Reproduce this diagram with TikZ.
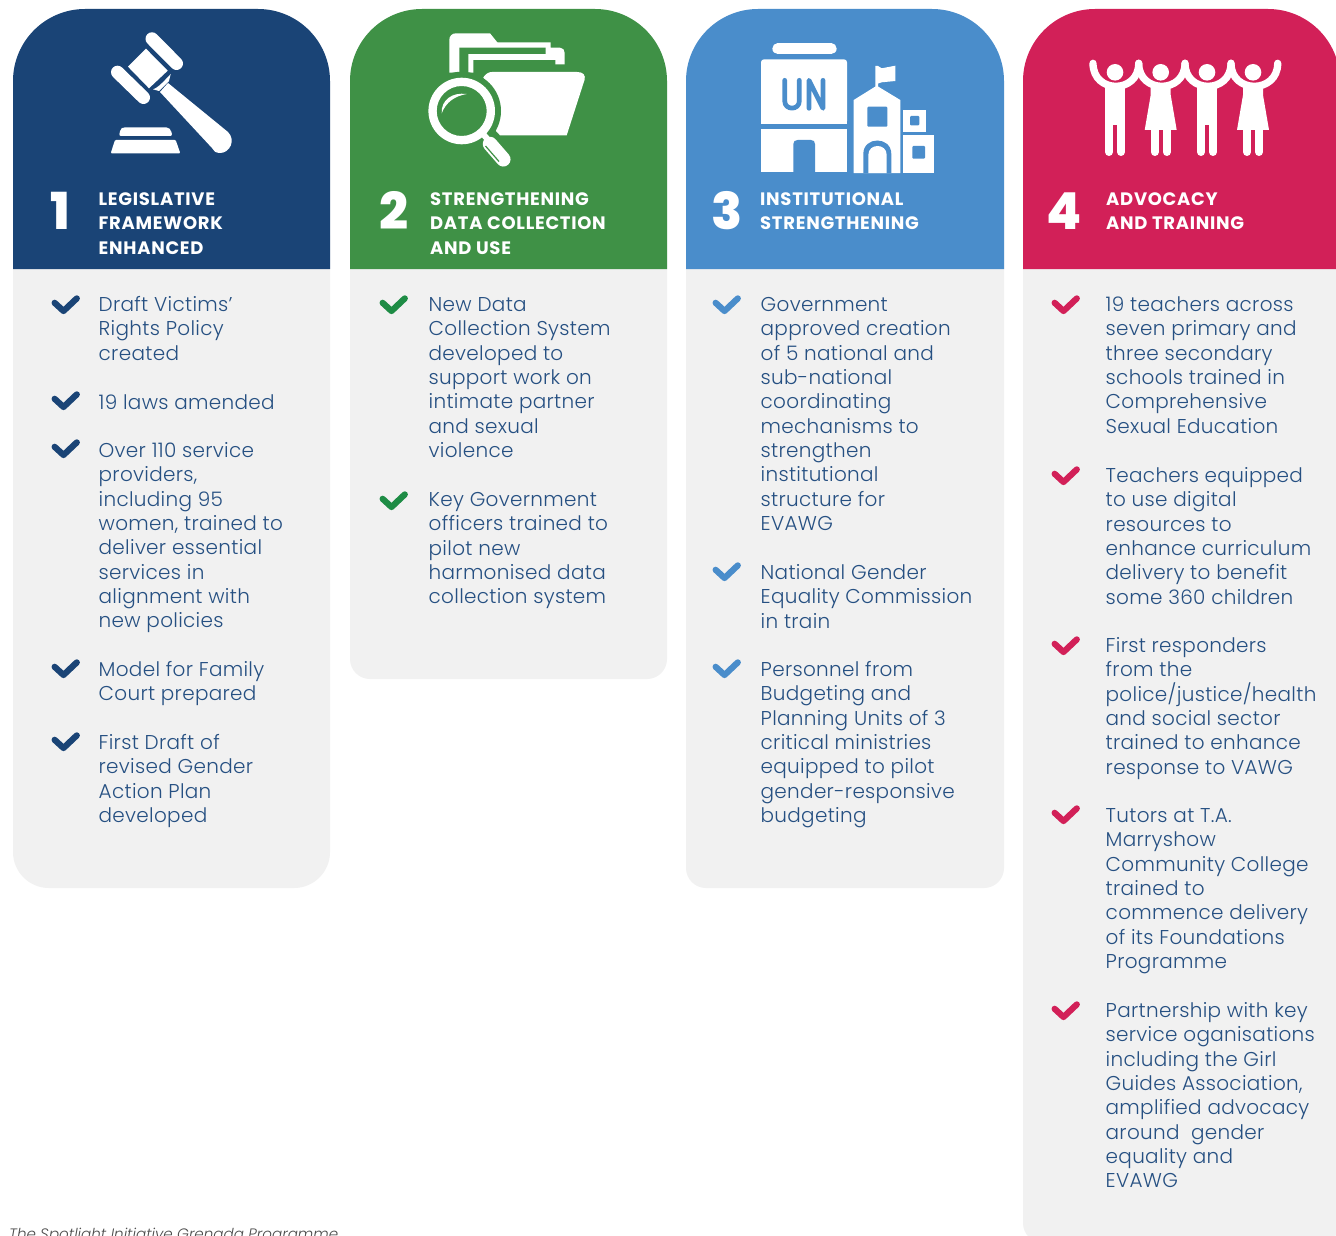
\documentclass[tikz,border=0pt]{standalone}
\usepackage{fontspec}
\setmainfont{Poppins}
\newfontfamily\bodyf[LetterSpace=1.5]{Poppins Light}
\newfontfamily\headf[LetterSpace=4]{Poppins Bold}
\newfontfamily\numf{Poppins ExtraBold}
\newfontfamily\footf{Poppins Light Italic}
\definecolor{navy}{HTML}{1A4476}
\definecolor{grn}{HTML}{3F9146}
\definecolor{chkgrn}{HTML}{1E8C45}
\definecolor{sky}{HTML}{4A8DCB}
\definecolor{crim}{HTML}{D22058}
\definecolor{pane}{HTML}{F1F1F1}
\definecolor{bodyc}{HTML}{265082}
\tikzset{
  bodytxt/.style={anchor=north west,inner sep=0pt,align=left,text=bodyc,font=\bodyf\fontsize{20}{24.33}\selectfont},
  headtxt/.style={anchor=north west,inner sep=0pt,align=left,text=white,font=\headf\fontsize{18}{24.6}\selectfont},
  numtxt/.style={anchor=base west,inner sep=0pt,text=white,font=\numf\fontsize{51}{51}\selectfont},
  ic/.style={fill=white,draw=none},
  capsule/.style={draw=white,line cap=round,line width=#1},
  checkline/.style={draw=#1,line width=6.2pt,line cap=round,line join=round}
}
\newcommand\pnl[5]{% x0 x1 ybot rb colour
  \fill[pane] (#1,200) [rounded corners=#4pt] -- (#1,#3) -- (#2,#3) -- (#2,200) -- cycle;
  \fill[#5] (#1,269) [rounded corners=72pt] -- (#1,9) -- (#2,9) [sharp corners] -- (#2,269) -- cycle;
}
\newcommand\chk[3]{% x0 yc colour
  \draw[checkline=#3] (#1+3.6,#2-1.2) -- (#1+12.5,#2+7) -- (#1+25.8,#2-5.6);
}
\newcommand\itx[4]{\node[bodytxt] (#1) at (#2,#3+.2-16) {\rule{0pt}{16pt}#4};}
\newcommand\hdx[4]{\node[headtxt] (#1) at (#2,#3-14) {\rule{0pt}{14pt}#4};}
\newcommand\boy[1]{% centre x
  \fill[white] (#1-10,86) rectangle (#1+10,125);
  \draw[capsule=8pt] (#1-6,120) -- (#1-6,152);
  \draw[capsule=8pt] (#1+6,120) -- (#1+6,152);
  \fill[white] (#1,72.3) circle[radius=8.3pt];
}
\newcommand\girl[1]{%
  \fill[white] (#1-10,86) -- (#1+10,86) -- (#1+10,95) -- (#1+16,130) -- (#1-16,130) -- (#1-10,95) -- cycle;
  \draw[capsule=8pt] (#1-6,125) -- (#1-6,152);
  \draw[capsule=8pt] (#1+6,125) -- (#1+6,152);
  \fill[white] (#1,72.3) circle[radius=8.3pt];
}
\newcommand\armc[2]{\draw[white,line width=7.3pt,line cap=round] (#1,63.3) .. controls (#1,94) and (#2,94) .. (#2,63.3);}
\begin{document}
\begin{tikzpicture}[x=1pt,y=-1pt]
\useasboundingbox (0,0) rectangle (1336,1236);
\clip (0,0) rectangle (1336,1236);
\fill[white] (0,0) rectangle (1336,1236);
\pnl{13}{330}{888}{36}{navy}
\pnl{350}{667}{679}{20}{grn}
\pnl{686}{1004}{888}{20}{sky}
\pnl{1023}{1340}{1243}{20}{crim}

% gavel
\draw[capsule=13pt] (152,38.8) -- (176.5,63.5);
\draw[capsule=13pt] (117.5,72.2) -- (143.5,97.5);
\fill[white] (146,48.7) -- (167.7,70.7) -- (149,88.3) -- (128,66.7) -- cycle;
\fill[white] (170.7,74) .. controls (170.5,77) .. (169,81) -- (159,91) -- (153,89.3) .. controls (158,88) and (165,80) .. cycle;
\fill[white] (168,83) -- (228,132) .. controls (236,140) and (230,153) .. (220,153) .. controls (216,153) and (213,151) .. (212,148) -- (160,92) -- cycle;
\fill[white,rounded corners=2pt] (119,136) -- (120.5,129) -- (123,127.3) -- (168,127.3) -- (171,130) -- (172.3,136) -- cycle;
\fill[white,rounded corners=1pt] (110.7,153.3) -- (115,140) -- (175.7,140) -- (180.3,153.3) -- cycle;

% folder
\fill[white] (449.3,72.7) -- (449.3,40) .. controls (449.3,36) and (452,33.3) .. (456,33.3) -- (490,33.3) -- (497.3,42.3) -- (550.7,42.3) -- (550.7,47.7) -- (560,47.7) .. controls (563,47.7) and (564.7,50) .. (564.7,53) -- (564.7,64.3) -- (555.3,64.3) -- (555.3,60) -- (473.3,60) -- (473.3,72.7) -- cycle;
\fill[grn] (459.3,72.7) -- (459.3,47.7) -- (545.7,47.7) -- (545.7,54) -- (468.3,54) -- (468.3,72.7) -- cycle;
\fill[white] (483.3,77.3) .. controls (486,74) and (488,72) .. (492,72) -- (577,72) .. controls (583,72) and (586,75) .. (584.5,80) -- (566.7,135.3) -- (500,135.3) -- (496,131) -- cycle;
\fill[grn] (461.7,111) circle[radius=39.3pt];
\fill[white,even odd rule] (461.7,111) circle[radius=33.3pt] (461.7,111) circle[radius=25pt];
\fill[white] (441.7,113.3) .. controls (441,100) and (452,92) .. (466.7,94) .. controls (455,96) and (446,102) .. cycle;
\draw[white,line width=6pt] (483,134) -- (490,142);
\draw[capsule=14.5pt] (490,144) -- (503.3,159.3);
\draw[grn,line width=1.2pt] (485.5,146) -- (499,161.5);

% UN building
\draw[capsule=10.7pt] (777.7,48.7) -- (831.3,48.7);
\fill[white,rounded corners=3pt] (761,124) -- (761,59.3) -- (847,59.3) -- (847,124) [sharp corners] -- cycle;
\fill[white] (761,124) rectangle (847,118);
\draw[sky,line width=4.7pt,line cap=round,line join=round] (784.7,80.3) -- (784.7,101) .. controls (784.7,110.5) and (799.3,110.5) .. (799.3,101) -- (799.3,80.3);
\draw[sky,line width=4.7pt,line cap=round,line join=round] (809,108.3) -- (809,80.3) -- (823,108.3) -- (823,80.3);
\fill[white] (761,129.3) rectangle (847,172.3);
\fill[sky] (793.3,172.4) -- (793.3,144) .. controls (793.3,141.5) and (795,140) .. (797.5,140) -- (811,140) .. controls (813.5,140) and (815,141.5) .. (815,144) -- (815,172.4) -- cycle;
\fill[white] (853.7,173) -- (853.7,100) -- (875.4,86.5) -- (875.4,66) -- (878,66) -- (881.7,68.3) -- (895.3,65.7) -- (895.3,81) -- (881.7,82.3) -- (878,83.5) -- (878,86.5) -- (900.3,100) -- (900.3,173) -- cycle;
\fill[sky,rounded corners=1pt] (867.3,106.7) rectangle (887.3,126.7);
\fill[sky] (863.3,173.1) -- (863.3,154) .. controls (863.3,136) and (891.3,136) .. (891.3,154) -- (891.3,173.1) -- cycle;
\fill[white] (868.3,173.1) -- (868.3,155) .. controls (868.3,143) and (886.7,143) .. (886.7,155) -- (886.7,173.1) -- cycle;
\fill[white] (903.3,110) rectangle (925.7,131.7);
\fill[sky,rounded corners=1pt] (910,116) rectangle (919.3,125.3);
\fill[white] (903.3,135) rectangle (934,173);
\fill[sky,rounded corners=1pt] (912.3,146) rectangle (925,158.7);

% people
\boy{1115}
\girl{1160.7}
\boy{1207}
\girl{1253}
\armc{1093}{1138.7}
\armc{1138.7}{1185}
\armc{1185}{1231}
\armc{1231}{1277.7}

% numbers
\node[numtxt] (n1) at (50,229) {1};
\node[numtxt] (n2) at (379.5,229) {2};
\node[numtxt] (n3) at (711,229) {3};
\node[numtxt] (n4) at (1046,229) {4};

% titles
\hdx{h1}{98.5}{205}{LEGISLATIVE\\FRAMEWORK\\ENHANCED}
\hdx{h2}{430}{205}{STRENGTHENING\\DATA COLLECTION\\AND USE}
\hdx{h3}{760}{205}{INSTITUTIONAL\\STRENGTHENING}
\hdx{h4}{1106}{205}{ADVOCACY\\AND TRAINING}

% column 1
\chk{51}{304}{navy}
\itx{a1}{98.5}{311}{Draft Victims’\\Rights Policy\\created}
\chk{51}{400}{navy}
\itx{a2}{98.5}{409}{19 laws amended}
\chk{51}{448}{navy}
\itx{a3}{98.5}{457}{Over 110 service\\providers,\\including 95\\women, trained to\\deliver essential\\services in\\alignment with\\new policies}
\chk{51}{668}{navy}
\itx{a4}{98.5}{676}{Model for Family\\Court prepared}
\chk{51}{741}{navy}
\itx{a5}{98.5}{749}{First Draft of\\revised Gender\\Action Plan\\developed}

% column 2
\chk{379}{304}{chkgrn}
\itx{b1}{428.5}{311}{New Data\\Collection System\\developed to\\support work on\\intimate partner\\and sexual\\violence}
\chk{379}{500}{chkgrn}
\itx{b2}{428.5}{506}{Key Government\\officers trained to\\pilot new\\harmonised data\\collection system}

% column 3
\chk{712}{304}{sky}
\itx{c1}{760.5}{311}{Government\\approved creation\\of 5 national and\\sub-national\\coordinating\\mechanisms to\\strengthen\\institutional\\structure for\\EVAWG}
\chk{712}{571}{sky}
\itx{c2}{760.5}{579}{National Gender\\Equality Commission\\in train}
\chk{712}{668}{sky}
\itx{c3}{760.5}{676}{Personnel from\\Budgeting and\\Planning Units of 3\\critical ministries\\equipped to pilot\\gender-responsive\\budgeting}

% column 4
\chk{1051}{304}{crim}
\itx{d1}{1105.5}{311}{19 teachers across\\seven primary and\\three secondary\\schools trained in\\Comprehensive\\Sexual Education}
\chk{1051}{475}{crim}
\itx{d2}{1105.5}{482}{Teachers equipped\\to use digital\\resources to\\enhance curriculum\\delivery to benefit\\some 360 children}
\chk{1051}{645}{crim}
\itx{d3}{1105.5}{652}{First responders\\from the\\police/justice/health\\and social sector\\trained to enhance\\response to VAWG}
\chk{1051}{814}{crim}
\itx{d4}{1105.5}{822}{Tutors at T.A.\\Marryshow\\Community College\\trained to\\commence delivery\\of its Foundations\\Programme}
\chk{1051}{1010}{crim}
\itx{d5}{1105.5}{1017}{Partnership with key\\service oganisations\\including the Girl\\Guides Association,\\amplified advocacy\\around\ \ gender\\equality and\\EVAWG}

\node[anchor=base west,inner sep=0pt,text=black!70,font=\footf\fontsize{15.1}{18}\selectfont] (ft) at (9,1239.5) {The Spotlight Initiative Grenada Programme};
\end{tikzpicture}
\end{document}
